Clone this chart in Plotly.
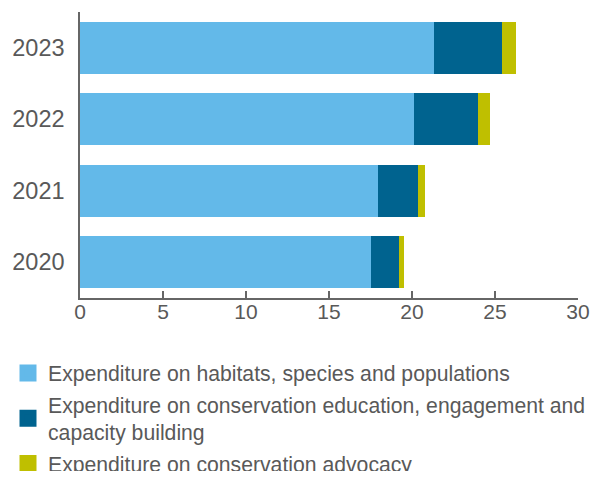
import plotly.graph_objects as go

years = ["2020", "2021", "2022", "2023"]
habitats = [17.50, 17.98, 20.14, 21.33]
education = [1.74, 2.39, 3.83, 4.07]
advocacy = [0.30, 0.42, 0.72, 0.84]

names = [
    "Expenditure on habitats, species and populations",
    "Expenditure on conservation education, engagement and<br>capacity building",
    "Expenditure on conservation advocacy",
]
colors = ["#63B9E9", "#00638F", "#BFBF00"]
series = [habitats, education, advocacy]

fig = go.Figure()
for i, (name, col, vals) in enumerate(zip(names, colors, series)):
    fig.add_trace(go.Bar(
        y=years, x=vals, name=name, orientation="h",
        marker=dict(color=col, line=dict(width=0)),
        legendgroup=f"g{i}", showlegend=False,
    ))
# legend-only entries (larger swatches)
for i, (name, col) in enumerate(zip(names, colors)):
    fig.add_trace(go.Bar(
        y=[None], x=[None], name=name, orientation="h",
        marker=dict(color=col, line=dict(width=5, color=col)),
        legendgroup=f"g{i}", showlegend=True, hoverinfo="skip",
    ))

font = "Liberation Sans, Arial, sans-serif"
fig.update_layout(
    width=582, height=463,
    barmode="stack", bargap=0.273,
    margin=dict(l=72, r=12, t=4, b=173, autoexpand=False),
    paper_bgcolor="white", plot_bgcolor="white",
    font=dict(family=font, color="#595959"),
    xaxis=dict(
        range=[0, 30], tickvals=[0, 5, 10, 15, 20, 25, 30],
        showgrid=False, zeroline=False,
        showline=True, linecolor="#666666", linewidth=1.5,
        ticks="inside", ticklen=7, tickcolor="#666666", tickwidth=1.5,
        ticklabelstandoff=-6, ticklabeloverflow="allow",
        tickfont=dict(size=21, color="#595959", family=font),
        automargin=False, fixedrange=True,
    ),
    yaxis=dict(
        categoryorder="array", categoryarray=years,
        showgrid=False, zeroline=False,
        showline=True, linecolor="#666666", linewidth=1.5,
        ticks="", ticklabelstandoff=9,
        tickfont=dict(size=23.5, color="#595959", family=font),
        automargin=False, fixedrange=True,
    ),
    legend=dict(
        orientation="v", traceorder="grouped", tracegroupgap=1,
        xref="container", yref="container",
        x=0, y=0.2557, xanchor="left", yanchor="top",
        font=dict(size=21.2, color="#595959", family=font),
        itemclick=False, itemdoubleclick=False,
        bgcolor="rgba(0,0,0,0)",
    ),
    showlegend=True,
)

fig.write_html("out.html")
